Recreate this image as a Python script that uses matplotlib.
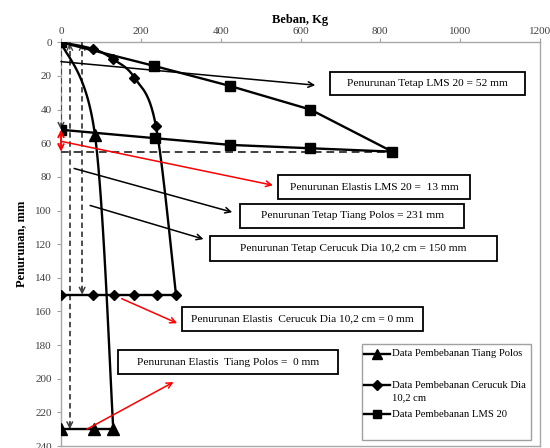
import numpy as np
import matplotlib
matplotlib.use("Agg")
import matplotlib.pyplot as plt
from matplotlib.patches import Rectangle
from matplotlib.lines import Line2D

plt.rcParams['font.family'] = ['Liberation Serif', 'DejaVu Serif']

# Load (kg) vs settlement (mm)
polos_load_x = [0, 85, 131]
polos_load_y = [0, 55, 230]
polos_unload_x = [131, 83, 0]
polos_unload_y = [230, 230, 230]

cerucuk_load_x = [0, 81, 130, 184, 238, 288]
cerucuk_load_y = [0, 4, 10, 21, 50, 150]
cerucuk_unload_x = [288, 240, 184, 133, 81, 0]
cerucuk_unload_y = [150, 150, 150, 150, 150, 150]

lms_x = [0, 233, 424, 625, 830, 625, 424, 235, 0]
lms_y = [0, 14, 26, 40, 65, 63, 61, 57, 52]

x_ticks = [0, 200, 400, 600, 800, 1000, 1200]
y_ticks = list(range(0, 241, 20))

legend_labels = ["Data Pembebanan Tiang Polos",
                 "Data Pembebanan Cerucuk Dia",
                 "10,2 cm",
                 "Data Pembebanan LMS 20"]

# callout boxes: (text, left, right, top, bottom) in data units
boxes = [
    ("Penurunan Tetap LMS 20 = 52 mm", 674, 1163, 17.7, 31.4),
    ("Penurunan Elastis LMS 20 =  13 mm", 544, 1025, 79, 93.3),
    ("Penurunan Tetap Tiang Polos = 231 mm", 449, 1010, 96.3, 110.2),
    ("Penurunan Tetap Cerucuk Dia 10,2 cm = 150 mm", 373, 1093, 115.3, 130),
    ("Penurunan Elastis  Cerucuk Dia 10,2 cm = 0 mm", 302, 908, 157.4, 171.7),
    ("Penurunan Elastis  Tiang Polos =  0 mm", 143, 693, 183.2, 197),
]

# pointer arrows: (start, end, colour)
pointers = [
    ((0, 11.5), (637, 25.5), 'black'),
    ((3, 59), (531, 85), 'red'),
    ((33, 75), (429, 101), 'black'),
    ((73, 97), (357, 117), 'black'),
    ((152, 152.4), (291, 167), 'red'),
    ((65, 230), (282, 202), 'red'),
]

# dashed guides: x position, top, bottom
guides = [(0, 0, 52), (22, 0, 230), (53, 0, 150)]


def smooth(xs, ys, n=40):
    """Catmull-Rom style smoothing through the given points."""
    pts = np.column_stack([xs, ys]).astype(float)
    out = [pts[0]]
    for i in range(len(pts) - 1):
        p0 = pts[i - 1] if i > 0 else pts[i]
        p1, p2 = pts[i], pts[i + 1]
        p3 = pts[i + 2] if i + 2 < len(pts) else pts[i + 1]
        c1 = p1 + (p2 - p0) / 6
        c2 = p2 - (p3 - p1) / 6
        t = np.linspace(0, 1, n)[1:, None]
        seg = ((1 - t) ** 3) * p1 + 3 * ((1 - t) ** 2) * t * c1 \
            + 3 * (1 - t) * t ** 2 * c2 + t ** 3 * p2
        out.extend(seg)
    out = np.array(out)
    return out[:, 0], out[:, 1]


fig = plt.figure(figsize=(5.5, 4.48), dpi=100)
ax = fig.add_axes([61 / 550, 1 - 446 / 448, 479 / 550, 403.7 / 448])
ax.set_xlim(0, 1200)
ax.set_ylim(240, 0)
ax.xaxis.tick_top()
ax.xaxis.set_label_position('top')
ax.set_xticks(x_ticks)
ax.set_yticks(y_ticks)
ax.tick_params(labelsize=8, colors='#404040', length=3, color='#a0a0a0')
ax.tick_params(axis='x', pad=1.5)
for s in ax.spines.values():
    s.set_color('#a8a8a8')
    s.set_linewidth(1.0)
ax.set_xlabel("Beban, Kg", fontsize=9, fontweight='bold', labelpad=3)
ax.set_ylabel("Penurunan, mm", fontsize=9, fontweight='bold')
ax.yaxis.set_label_coords(-0.071, 0.5)

lw = 1.7
# Tiang polos
sx, sy = smooth(polos_load_x, polos_load_y)
ax.plot(sx, sy, color='black', lw=lw, zorder=4)
ax.plot(polos_unload_x, polos_unload_y, color='black', lw=lw, zorder=4)
ax.plot(polos_load_x[1:] + polos_unload_x[1:], polos_load_y[1:] + polos_unload_y[1:],
        ls='none', marker='^', ms=8, color='black', zorder=5)

# Cerucuk
sx, sy = smooth(cerucuk_load_x, cerucuk_load_y)
ax.plot(sx, sy, color='black', lw=lw, zorder=4)
ax.plot(cerucuk_unload_x, cerucuk_unload_y, color='black', lw=lw, zorder=4)
ax.plot(cerucuk_load_x + cerucuk_unload_x[1:], cerucuk_load_y + cerucuk_unload_y[1:],
        ls='none', marker='D', ms=5.5, color='black', zorder=5)

# LMS 20
ax.plot(lms_x, lms_y, color='black', lw=lw, marker='s', ms=7.5, zorder=5)

# dashed guides with arrowheads
for gx, y0, y1 in guides:
    ax.plot([gx, gx], [y0, y1], ls=(0, (3, 2)), color='#404040', lw=1.3, zorder=3)
    ax.annotate('', xy=(gx, y1), xytext=(gx, y1 - 4),
                arrowprops=dict(arrowstyle='->', color='#404040', lw=1.1,
                                shrinkA=0, shrinkB=0), zorder=3)
    if gx > 0:
        ax.annotate('', xy=(gx, y0 + 0.5), xytext=(gx, y0 + 4),
                    arrowprops=dict(arrowstyle='->', color='#404040', lw=1.0,
                                    shrinkA=0, shrinkB=0), zorder=3)

# horizontal dashed level at max LMS settlement
ax.plot([0, lms_x[4]], [lms_y[4], lms_y[4]], ls=(0, (4, 2.5)), color='#404040',
        lw=1.4, zorder=3)

# elastic rebound of LMS 20
ax.annotate('', xy=(0, lms_y[-1]), xytext=(0, lms_y[4]),
            arrowprops=dict(arrowstyle='<->', color='red', lw=1.3,
                            shrinkA=0, shrinkB=0), zorder=6, annotation_clip=False)

for (x0, y0), (x1, y1), c in pointers:
    ax.annotate('', xy=(x1, y1), xytext=(x0, y0),
                arrowprops=dict(arrowstyle='->', color=c, lw=1.1,
                                shrinkA=0, shrinkB=0), zorder=6)

for text, l, r, t, b in boxes:
    ax.add_patch(Rectangle((l, t), r - l, b - t, facecolor='white',
                           edgecolor='black', lw=1.3, zorder=7))
    ax.text((l + r) / 2, (t + b) / 2, text, ha='center', va='center',
            fontsize=8.2, zorder=8)


# legend drawn in figure pixels
def fp(x, y):
    return x / 550, 1 - y / 448


lx0, ly0 = fp(362, 344)
lx1, ly1 = fp(531, 440)
fig.add_artist(Rectangle((lx0, ly1), lx1 - lx0, ly0 - ly1, transform=fig.transFigure,
                         facecolor='white', edgecolor='#a0a0a0', lw=1.0, zorder=9))
rows = [(354, '^', 7, legend_labels[0]),
        (385, 'D', 5, legend_labels[1]),
        (414, 's', 6, legend_labels[3])]
for y, m, ms, lab in rows:
    a, yy = fp(364, y)
    b, _ = fp(390, y)
    c, _ = fp(377, y)
    fig.add_artist(Line2D([a, b], [yy, yy], transform=fig.transFigure,
                          color='black', lw=1.7, zorder=10))
    fig.add_artist(Line2D([c], [yy], transform=fig.transFigure, marker=m, ms=ms,
                          color='black', zorder=10))
    tx, _ = fp(391.5, y)
    fig.text(tx, yy, lab, ha='left', va='center', fontsize=7.7, zorder=11)
tx, ty = fp(391.5, 398)
fig.text(tx, ty, legend_labels[2], ha='left', va='center', fontsize=7.7, zorder=11)

fig.savefig('out.png', dpi=100)
